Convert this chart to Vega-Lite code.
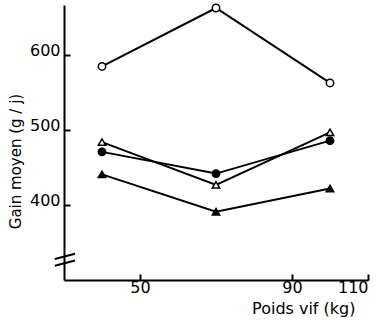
{
  "$schema": "https://vega.github.io/schema/vega-lite/v6.json",
  "width": 304,
  "height": 275,
  "autosize": {"type": "none"},
  "padding": {"left": 64, "top": 5, "right": 8, "bottom": 40},
  "background": "white",
  "config": {
    "view": {"stroke": null},
    "font": "DejaVu Sans",
    "axis": {
      "domainColor": "black",
      "domainWidth": 2,
      "tickColor": "black",
      "tickWidth": 2,
      "tickSize": -6,
      "grid": false,
      "labelColor": "black",
      "labelFont": "DejaVu Sans",
      "labelFontSize": 16,
      "titleFont": "DejaVu Sans",
      "titleFontWeight": "normal",
      "titleColor": "black"
    }
  },
  "datasets": {
    "gain": [
      {"poids": 40, "gain": 585, "serie": "A"},
      {"poids": 70, "gain": 663, "serie": "A"},
      {"poids": 100, "gain": 563, "serie": "A"},
      {"poids": 40, "gain": 484, "serie": "B"},
      {"poids": 70, "gain": 427, "serie": "B"},
      {"poids": 100, "gain": 497, "serie": "B"},
      {"poids": 40, "gain": 471, "serie": "C"},
      {"poids": 70, "gain": 442, "serie": "C"},
      {"poids": 100, "gain": 486, "serie": "C"},
      {"poids": 40, "gain": 441, "serie": "D"},
      {"poids": 70, "gain": 391, "serie": "D"},
      {"poids": 100, "gain": 422, "serie": "D"}
    ],
    "coupure": [
      {"x": 27.6, "x2": 32.9, "y": 328, "y2": 335},
      {"x": 27.6, "x2": 32.9, "y": 319, "y2": 326}
    ]
  },
  "layer": [
    {
      "data": {"name": "gain"},
      "mark": {"type": "line", "color": "black", "strokeWidth": 2},
      "encoding": {
        "x": {
          "field": "poids", "type": "quantitative",
          "scale": {"domain": [30, 110], "nice": false, "zero": false},
          "axis": {
            "values": [50, 90, 110],
            "title": "Poids vif (kg)",
            "titleFontSize": 16,
            "labelPadding": 5,
            "titleX": 291,
            "titleY": 20,
            "titleAlign": "right",
            "titleAnchor": null,
            "titleBaseline": "top"
          }
        },
        "y": {
          "field": "gain", "type": "quantitative",
          "scale": {"domain": [300, 667], "nice": false, "zero": false},
          "axis": {
            "values": [400, 500, 600],
            "title": "Gain moyen (g / j)",
            "titleFontSize": 15,
            "labelPadding": 10,
            "labelBaseline": "middle",
            "labelOffset": -5,
            "titleX": -49,
            "titleY": 156,
            "titleBaseline": "middle"
          }
        },
        "detail": {"field": "serie"}
      }
    },
    {
      "data": {"name": "coupure"},
      "mark": {"type": "rule", "color": "black", "strokeWidth": 2},
      "encoding": {
        "x": {"field": "x", "type": "quantitative"},
        "x2": {"field": "x2"},
        "y": {"field": "y", "type": "quantitative"},
        "y2": {"field": "y2"}
      }
    },
    {
      "data": {"name": "gain"},
      "mark": {"type": "point", "stroke": "black", "strokeWidth": 1.5, "opacity": 1, "size": 55},
      "encoding": {
        "x": {"field": "poids", "type": "quantitative"},
        "y": {"field": "gain", "type": "quantitative"},
        "shape": {
          "field": "serie", "type": "nominal",
          "scale": {"domain": ["A", "B", "C", "D"], "range": ["circle", "triangle-up", "circle", "triangle-up"]},
          "legend": null
        },
        "fill": {
          "field": "serie", "type": "nominal",
          "scale": {"domain": ["A", "B", "C", "D"], "range": ["white", "white", "black", "black"]},
          "legend": null
        }
      }
    }
  ]
}
